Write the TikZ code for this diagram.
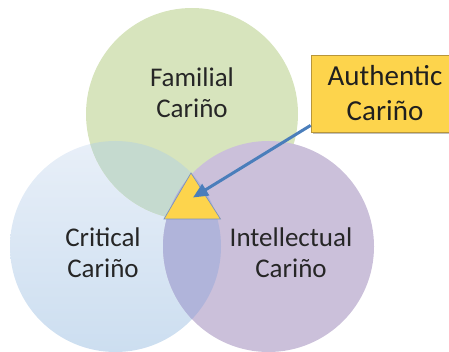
\documentclass[tikz,border=0pt]{standalone}
\usepackage{fontspec}
\setmainfont{Carlito}
\usetikzlibrary{arrows.meta,calc}
\definecolor{cgreen}{HTML}{D7E4BD}
\definecolor{bluetop}{HTML}{E8EFF8}
\definecolor{bluebot}{HTML}{CCDEF0}
\definecolor{cpurple}{HTML}{CBC0DA}
\definecolor{cgb}{HTML}{C5DACF}
\definecolor{cbp}{HTML}{B0B4DA}
\definecolor{cyellow}{HTML}{FDD44C}
\definecolor{boxborder}{HTML}{B8963A}
\definecolor{arrowblue}{HTML}{4A7EBB}
\definecolor{tribord}{HTML}{7B93BF}
\definecolor{txt}{HTML}{262626}
\tikzset{
  lbl/.style={text=txt, align=center, inner sep=0pt, font=\fontsize{27}{31}\selectfont},
  authbox/.style={fill=cyellow, draw=boxborder, line width=0.8pt, minimum width=148pt, minimum height=77pt, align=center, inner sep=0pt, text=black!88, font=\fontsize{29}{35}\selectfont},
  pointer/.style={draw=arrowblue, line width=3pt, -{Triangle[length=15pt,width=13pt]}},
}
\begin{document}
\begin{tikzpicture}[x=1pt,y=-1pt]
\useasboundingbox (0,0) rectangle (449,352);
\clip (0,0) rectangle (449,352);
\coordinate (cg) at (192,114);
\coordinate (cb) at (115.5,246.5);
\coordinate (cp) at (268.5,246.5);
% blue circle
\shade[top color=bluetop, bottom color=bluebot] (cb) circle[radius=105.5pt];
% green circle
\fill[cgreen] (cg) circle[radius=106pt];
\begin{scope}
  \clip (cb) circle[radius=105.5pt];
  \fill[cgb] (cg) circle[radius=106pt];
\end{scope}
% purple circle
\fill[cpurple] (cp) circle[radius=105.5pt];
\begin{scope}
  \clip (cb) circle[radius=105.5pt];
  \fill[cbp] (cp) circle[radius=105.5pt];
\end{scope}
% labels
\node[lbl] (fam) at (192,92.5) {Familial\\Cariño};
\node[lbl] (crit) at (103,253) {Critical\\Cariño};
\node[lbl] (intel) at (291,253) {Intellectual\\Cariño};
% triangle
\draw[fill=cyellow, draw=tribord, line width=0.7pt] (191,173) -- (220.5,219) -- (164,219) -- cycle;
\coordinate (tip) at (193,197.5);
% box with shadow
\fill[black!25] (313,57) rectangle (462,134.5);
\node[authbox] (auth) at (385,93.5) {Authentic\\Cariño};
\draw[pointer] ([yshift=7pt]auth.south west) -- (tip);
\end{tikzpicture}
\end{document}
